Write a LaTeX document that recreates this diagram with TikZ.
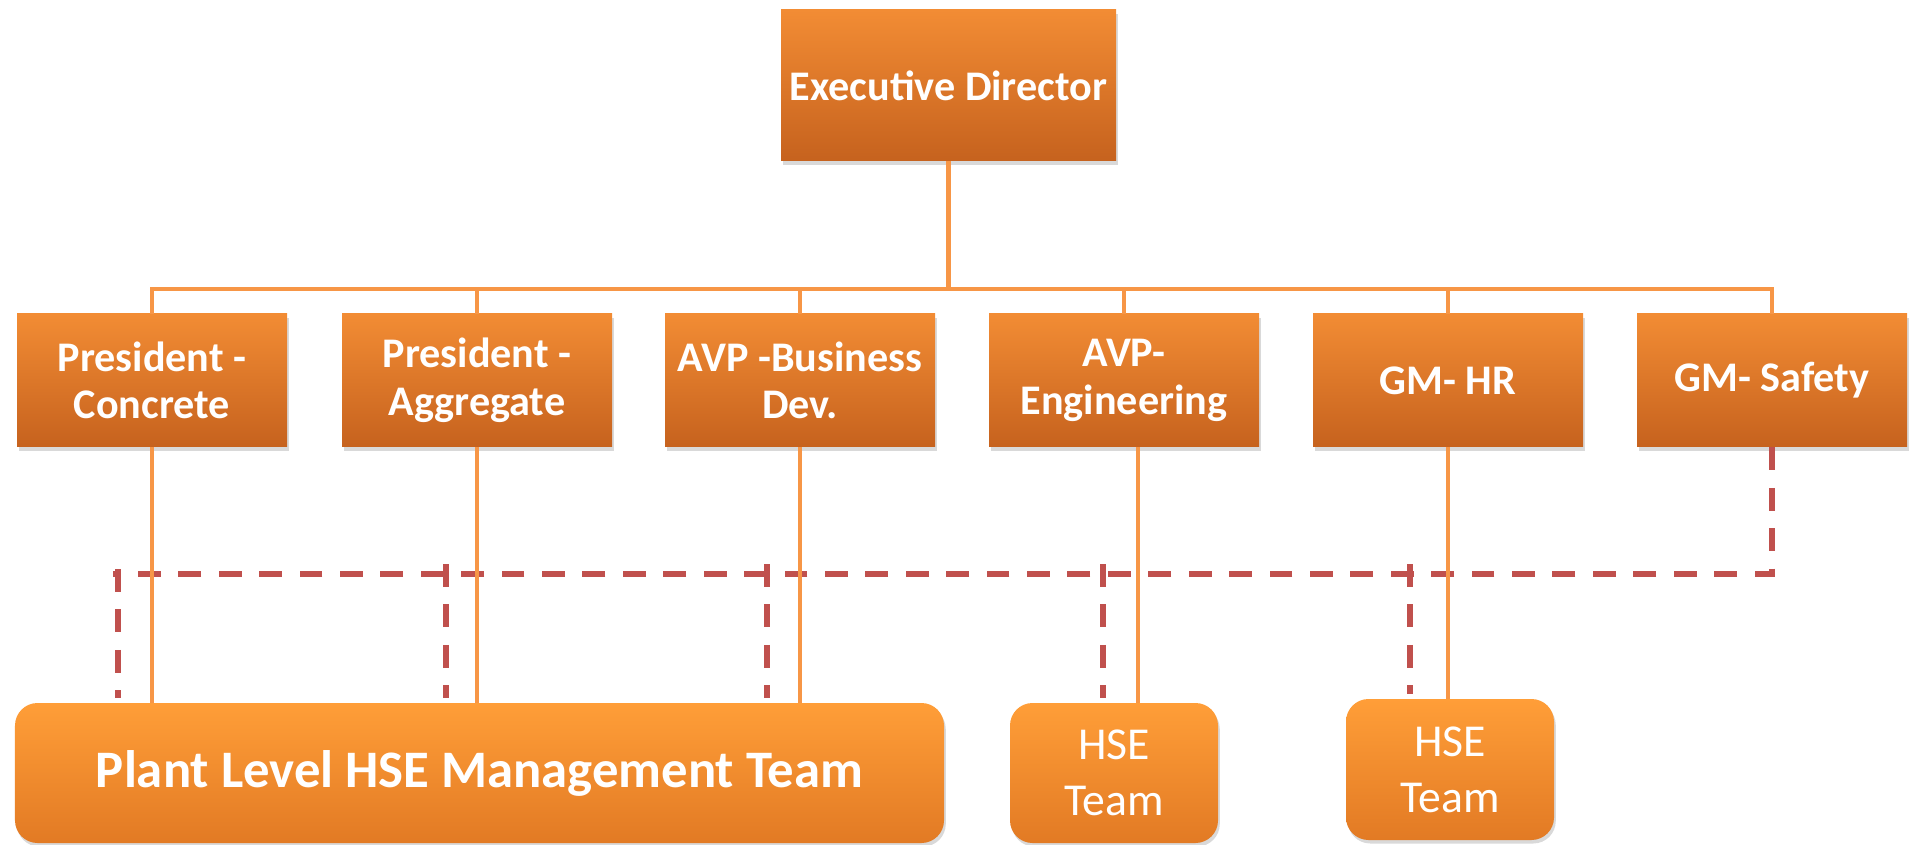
\documentclass[tikz,border=0pt]{standalone}
\usepackage{fontspec}
\setmainfont{Carlito}
\usepackage{tikz}
\usetikzlibrary{shadows}
\definecolor{boxtop}{RGB}{242,140,52}
\definecolor{boxbot}{RGB}{198,98,30}
\definecolor{teamtop}{RGB}{255,158,56}
\definecolor{teambot}{RGB}{226,122,36}
\definecolor{linkorange}{RGB}{247,150,70}
\definecolor{dashred}{RGB}{192,80,77}

\begin{document}
\begin{tikzpicture}[
    post/.style={top color=boxtop, bottom color=boxbot, text=white,
        font=\bfseries\fontsize{24}{27}\selectfont, align=center,
        minimum width=5.4cm, minimum height=2.66cm, inner sep=0pt,
        drop shadow={opacity=0.3, shadow xshift=1pt, shadow yshift=-2pt}},
    team/.style={top color=teamtop, bottom color=teambot, text=white,
        rounded corners=0.45cm, align=center, inner sep=0pt,
        drop shadow={opacity=0.3, shadow xshift=1pt, shadow yshift=-2pt}},
    link/.style={draw=linkorange, line width=2.8pt},
    dashlink/.style={draw=dashred, line width=3.7pt, dash pattern=on 13pt off 10pt}
    ]

    \useasboundingbox (0,0) rectangle (38.2,-16.9);

    \node[post, 
        minimum width=6.7cm, 
        minimum height=3.02cm, 
        font=\bfseries\fontsize{24}{28}\selectfont
        ] (1) at (18.97,-1.71) {Executive Director};

    \node[post] (21) at (3.04,-7.61) {President -\\Concrete};
    \node[post] (22) at (9.54,-7.61) {President -\\Aggregate};
    \node[post] (23) at (16.0,-7.61) {AVP -Business\\Dev.};
    \node[post] (24) at (22.48,-7.61) {AVP-\\Engineering};
    \node[post] (25) at (28.96,-7.61) {GM- HR};
    \node[post] (26) at (35.44,-7.61) {GM- Safety};

    \node[team, 
        minimum width=18.58cm, 
        minimum height=2.8cm, 
        font=\bfseries\fontsize{30}{34}\selectfont
        ] (31) at (9.59,-15.46) {Plant Level HSE Management Team};

    \node[team, 
        minimum width=4.16cm, 
        minimum height=2.8cm, 
        font=\fontsize{26}{32}\selectfont
        ] (32) at (22.28,-15.46) {HSE\\Team};

    \node[team, 
        minimum width=4.16cm, 
        minimum height=2.82cm, 
        font=\fontsize{26}{32}\selectfont
        ] (33) at (29.0,-15.39) {HSE\\Team};

    % dashed safety lines
    \coordinate (d1) at (2.36,-11.48);
    \coordinate (d2) at (8.92,-11.48);
    \coordinate (d3) at (15.34,-11.48);
    \coordinate (d4) at (22.06,-11.48);
    \coordinate (d5) at (28.2,-11.48);

    \draw[dashlink] (26.south) |- ([xshift=-0.1cm]d1);
    \draw[dashlink] ([yshift=0.1cm]d1) -- ([yshift=0.1cm]d1 |- 31.north);
    \draw[dashlink] ([yshift=0.2cm]d2) -- ([yshift=0.1cm]d2 |- 31.north);
    \draw[dashlink] ([yshift=0.2cm]d3) -- ([yshift=0.1cm]d3 |- 31.north);
    \draw[dashlink] ([yshift=0.2cm]d4) -- ([yshift=0.1cm]d4 |- 32.north);
    \draw[dashlink] ([yshift=0.2cm]d5) -- ([yshift=0.1cm]d5 |- 33.north);

    % solid reporting lines
    \coordinate (bus) at (0,-5.78);
    \draw[link] (1.south) -- (1.south |- bus);
    \draw[link] (21.north) |- (26.north |- bus) -- (26.north);
    \draw[link] (22.north) -- (22.north |- bus);
    \draw[link] (23.north) -- (23.north |- bus);
    \draw[link] (24.north) -- (24.north |- bus);
    \draw[link] (25.north) -- (25.north |- bus);

    \draw[link] (21.south) -- (21.south |- 31.north);
    \draw[link] (22.south) -- (22.south |- 31.north);
    \draw[link] (23.south) -- (23.south |- 31.north);
    \draw[link] ([xshift=0.28cm]24.south) -- ([xshift=0.28cm]24.south |- 32.north);
    \draw[link] (25.south) -- (25.south |- 33.north);

\end{tikzpicture}
\end{document}
